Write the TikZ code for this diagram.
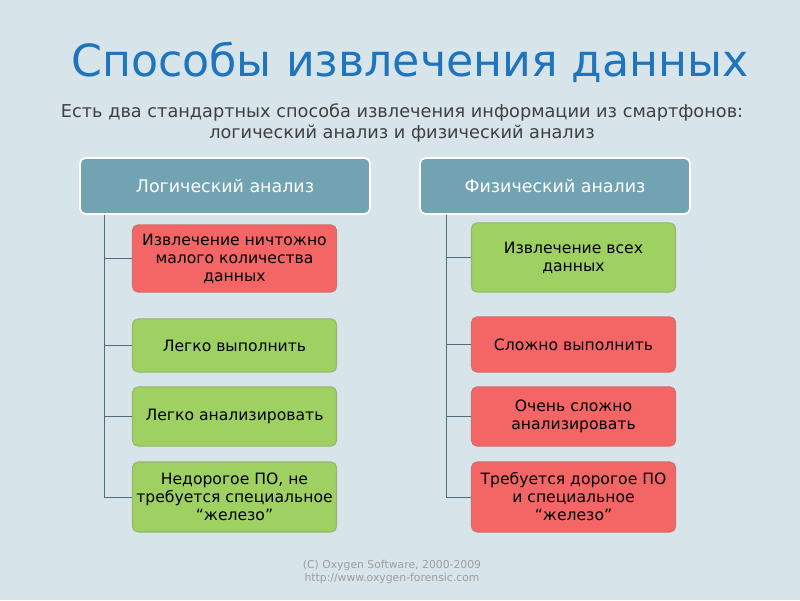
\documentclass[tikz,border=0pt]{standalone}
\usepackage{fontspec}
\setmainfont{DejaVu Sans}
\usetikzlibrary{positioning}

\definecolor{slide}{HTML}{D7E4E9}
\definecolor{titleblue}{HTML}{1E74BD}
\definecolor{headfill}{HTML}{72A3B3}
\definecolor{goodfill}{HTML}{9ED062}
\definecolor{badfill}{HTML}{F46666}
\definecolor{treeline}{HTML}{4F6E7A}

\tikzset{
    head/.style={
        draw=white, line width=1.2pt, fill=headfill, rounded corners=4pt,
        text=white, minimum width=7.25cm, minimum height=1.4cm,
        font=\fontsize{12.4}{14}\selectfont
    },
    item/.style={
        rounded corners=4pt, line width=0.8pt, minimum width=5.1cm,
        inner xsep=1pt, align=center, text=black,
        font=\fontsize{11.1}{12.8}\selectfont
    },
    good/.style={item, fill=goodfill, draw=goodfill!70!gray},
    bad/.style={item, fill=badfill, draw=badfill!70!gray},
}

\begin{document}
\begin{tikzpicture}[x=0.025cm, y=-0.025cm]

% Slide background
\fill[slide] (0,0) rectangle (800,600);
\useasboundingbox (0,0) rectangle (800,600);

% Title and lead text
\node (title) at (410,62) {\fontsize{31.5}{36}\selectfont\color{titleblue}Способы извлечения данных};
\node[align=center, text=black!75, font=\fontsize{12.6}{14.5}\selectfont] (lead) at (402,123)
    {Есть два стандартных способа извлечения информации из смартфонов:\\
     логический анализ и физический анализ};

% Column headers
\node[head] (lhead) at (225,186) {Логический анализ};
\node[head, minimum width=6.75cm] (rhead) at (555,186) {Физический анализ};

% Logical analysis
\node[bad,  minimum height=1.68cm] (l1) at (234.5,258.5) {Извлечение ничтожно\\малого количества\\данных};
\node[good, minimum height=1.33cm] (l2) at (234.5,345.5) {Легко выполнить};
\node[good, minimum height=1.48cm] (l3) at (234.5,416.5) {Легко анализировать};
\node[good, minimum height=1.75cm] (l4) at (234.5,497) {Недорогое ПО, не\\требуется специальное\\“железо”};

% Physical analysis
\node[good, minimum height=1.73cm] (r1) at (573.5,257.5) {Извлечение всех\\данных};
\node[bad,  minimum height=1.38cm] (r2) at (573.5,344.5) {Сложно выполнить};
\node[bad,  minimum height=1.48cm] (r3) at (573.5,416.5) {Очень сложно\\анализировать};
\node[bad,  minimum height=1.75cm] (r4) at (573.5,497) {Требуется дорогое ПО\\и специальное\\“железо”};

% Tree connectors
\coordinate (ltrunk) at (104,215);
\coordinate (rtrunk) at (446,215);
\draw[treeline, line width=0.6pt] (ltrunk) |- (l4.west);
\draw[treeline, line width=0.6pt] (rtrunk) |- (r4.west);
\foreach \i in {1,2,3}{
    \draw[treeline, line width=0.6pt] (ltrunk |- l\i.west) -- (l\i.west);
    \draw[treeline, line width=0.6pt] (rtrunk |- r\i.west) -- (r\i.west);
}

% Footer
\node[align=center, text=black!38, font=\fontsize{7.7}{8.6}\selectfont] (foot) at (392,572)
    {(C) Oxygen Software, 2000-2009\\http://www.oxygen-forensic.com};

\end{tikzpicture}
\end{document}
